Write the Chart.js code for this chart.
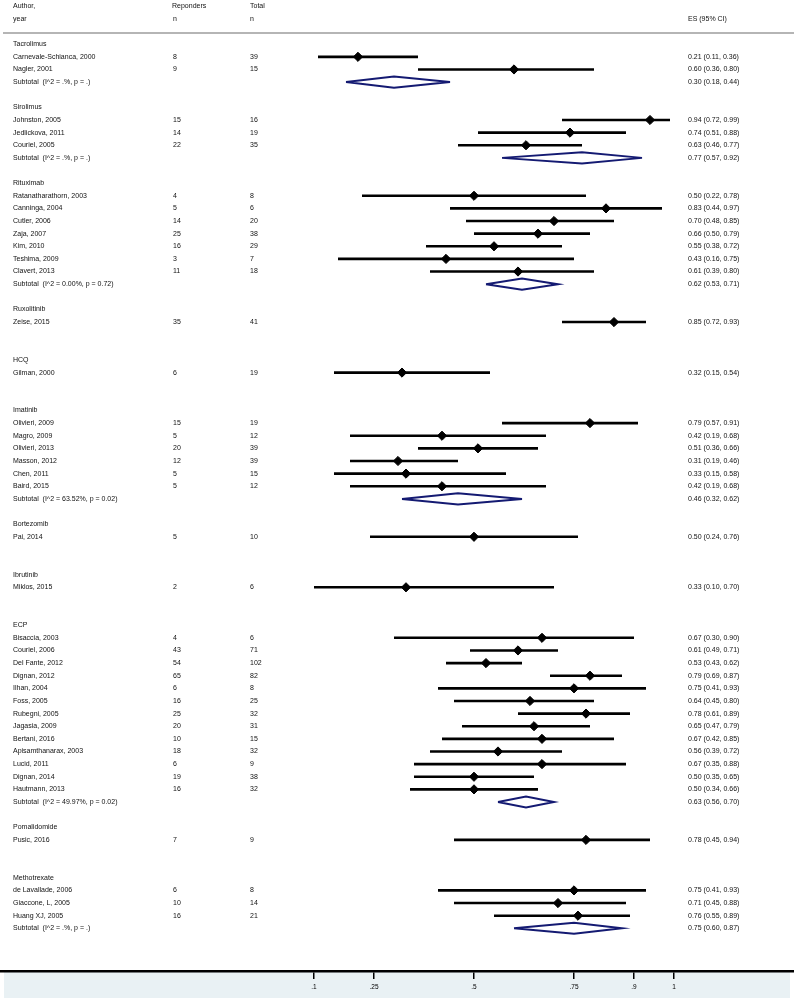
<!DOCTYPE html>
<html><head><meta charset="utf-8">
<script src="https://cdn.jsdelivr.net/npm/chart.js@4/dist/chart.umd.min.js"></script>
<style>html,body{margin:0;padding:0;background:#fff}#wrap{width:794px;height:1000px;position:relative}</style>
</head><body><div id="wrap"><canvas id="c"></canvas></div>
<script>
// ---- data ----
const groupNames = ['Tacrolimus','Sirolimus','Rituximab','Ruxolitinib','HCQ','Imatinib','Bortezomib','Ibrutinib','ECP','Pomalidomide','Methotrexate'];
const studyLabels = [
  'Carnevale-Schianca, 2000','Nagler, 2001',
  'Johnston, 2005','Jedlickova, 2011','Couriel, 2005',
  'Ratanatharathorn, 2003','Canninga, 2004','Cutler, 2006','Zaja, 2007','Kim, 2010','Teshima, 2009','Clavert, 2013',
  'Zeise, 2015',
  'Gilman, 2000',
  'Olivieri, 2009','Magro, 2009','Olivieri, 2013','Masson, 2012','Chen, 2011','Baird, 2015',
  'Pai, 2014',
  'Miklos, 2015',
  'Bisaccia, 2003','Couriel, 2006','Del Fante, 2012','Dignan, 2012','Ilhan, 2004','Foss, 2005','Rubegni, 2005','Jagasia, 2009','Bertani, 2016','Apisamthanarax, 2003','Lucid, 2011','Dignan, 2014','Hautmann, 2013',
  'Pusic, 2016',
  'de Lavallade, 2006','Giaccone, L, 2005','Huang XJ, 2005'
];
const studyGroup = [0,0, 1,1,1, 2,2,2,2,2,2,2, 3, 4, 5,5,5,5,5,5, 6, 7, 8,8,8,8,8,8,8,8,8,8,8,8,8, 9, 10,10,10];
const responders = [8,9, 15,14,22, 4,5,14,25,16,3,11, 35, 6, 15,5,20,12,5,5, 5, 2, 4,43,54,65,6,16,25,20,10,18,6,19,16, 7, 6,10,16];
const totals     = [39,15, 16,19,35, 8,6,20,38,29,7,18, 41, 19, 19,12,39,39,15,12, 10, 6, 6,71,102,82,8,25,32,31,15,32,9,38,32, 9, 8,14,21];
const esValues   = [0.21,0.60, 0.94,0.74,0.63, 0.50,0.83,0.70,0.66,0.55,0.43,0.61, 0.85, 0.32, 0.79,0.42,0.51,0.31,0.33,0.42, 0.50, 0.33, 0.67,0.61,0.53,0.79,0.75,0.64,0.78,0.65,0.67,0.56,0.67,0.50,0.50, 0.78, 0.75,0.71,0.76];
const ciLow      = [0.11,0.36, 0.72,0.51,0.46, 0.22,0.44,0.48,0.50,0.38,0.16,0.39, 0.72, 0.15, 0.57,0.19,0.36,0.19,0.15,0.19, 0.24, 0.10, 0.30,0.49,0.43,0.69,0.41,0.45,0.61,0.47,0.42,0.39,0.35,0.35,0.34, 0.45, 0.41,0.45,0.55];
const ciHigh     = [0.36,0.80, 0.99,0.88,0.77, 0.78,0.97,0.85,0.79,0.72,0.75,0.80, 0.93, 0.54, 0.91,0.68,0.66,0.46,0.58,0.68, 0.76, 0.70, 0.90,0.71,0.62,0.87,0.93,0.80,0.89,0.79,0.85,0.72,0.88,0.65,0.66, 0.94, 0.93,0.88,0.89];
const subtotalLabels = ['Subtotal  (I^2 = .%, p = .)','Subtotal  (I^2 = .%, p = .)','Subtotal  (I^2 = 0.00%, p = 0.72)',null,null,'Subtotal  (I^2 = 63.52%, p = 0.02)',null,null,'Subtotal  (I^2 = 49.97%, p = 0.02)',null,'Subtotal  (I^2 = .%, p = .)'];
const subtotalES   = [0.30,0.77,0.62,null,null,0.46,null,null,0.63,null,0.75];
const subtotalLow  = [0.18,0.57,0.53,null,null,0.32,null,null,0.56,null,0.60];
const subtotalHigh = [0.44,0.92,0.71,null,null,0.62,null,null,0.70,null,0.87];
const tickValues = [0.1,0.25,0.5,0.75,0.9,1];
const tickLabels = ['.1','.25','.5','.75','.9','1'];

// ---- row layout (row index per line of the table) ----
const groupRow = [], studyRow = [], subtotalRow = [];
let r = 0;
groupNames.forEach((g, gi) => {
  groupRow[gi] = r++;
  studyGroup.forEach((sg, si) => { if (sg === gi) studyRow[si] = r++; });
  subtotalRow[gi] = r++;
  r++;
});
const fmt = v => v.toFixed(2);
const esText = (e, l, h) => fmt(e) + ' (' + fmt(l) + ', ' + fmt(h) + ')';

const datasets = [];
studyLabels.forEach((s, i) => {
  datasets.push({
    data: [{x: ciLow[i], y: studyRow[i]}, {x: ciHigh[i], y: studyRow[i]}],
    showLine: true, borderColor: '#000', borderWidth: 2.6, pointRadius: 0, borderCapStyle: 'butt'
  });
});
groupNames.forEach((g, gi) => {
  if (subtotalES[gi] == null) return;
  const y = subtotalRow[gi], h = 0.44;
  datasets.push({
    data: [{x: subtotalLow[gi], y: y}, {x: subtotalES[gi], y: y - h}, {x: subtotalHigh[gi], y: y}, {x: subtotalES[gi], y: y + h}, {x: subtotalLow[gi], y: y}],
    showLine: true, borderColor: '#141a72', borderWidth: 2, pointRadius: 0, fill: false, tension: 0, borderJoinStyle: 'miter'
  });
});
datasets.push({
  data: esValues.map((v, i) => ({x: v, y: studyRow[i]})),
  pointStyle: 'rectRot', pointRadius: 4.6, backgroundColor: '#000', borderColor: '#000', borderWidth: 1, showLine: false
});

const textPlugin = {
  id: 'forestText',
  beforeDraw(chart) {
    const ctx = chart.ctx, ca = chart.chartArea;
    ctx.save();
    ctx.fillStyle = '#fff';
    ctx.fillRect(0, 0, chart.width, chart.height);
    ctx.fillStyle = '#e9f1f4';
    ctx.fillRect(4, ca.bottom + 1, chart.width - 8, chart.height - ca.bottom - 3);
    ctx.restore();
  },
  afterDraw(chart) {
    const ctx = chart.ctx, ys = chart.scales.y;
    ctx.save();
    ctx.font = '7px "Liberation Sans", Arial, sans-serif';
    ctx.fillStyle = '#111';
    ctx.textBaseline = 'middle';
    ctx.textAlign = 'left';
    const X = {label: 13, resp: 173, tot: 250, es: 688};
    const put = (t, x, row) => ctx.fillText(t, x, ys.getPixelForValue(row));
    put('Author,', X.label, -3); put('year', X.label, -2);
    put('Reponders', X.resp - 1, -3); put('n', X.resp, -2);
    put('Total', X.tot, -3); put('n', X.tot, -2);
    put('ES (95% CI)', X.es, -2);
    // header rule
    ctx.strokeStyle = '#b5b5b5'; ctx.lineWidth = 2;
    const hy = ys.getPixelForValue(-0.88);
    ctx.beginPath(); ctx.moveTo(3, hy); ctx.lineTo(chart.width, hy); ctx.stroke();
    groupNames.forEach((g, gi) => {
      put(g, X.label, groupRow[gi]);
      if (subtotalES[gi] != null) {
        put(subtotalLabels[gi], X.label, subtotalRow[gi]);
        put(esText(subtotalES[gi], subtotalLow[gi], subtotalHigh[gi]), X.es, subtotalRow[gi]);
      }
    });
    studyLabels.forEach((s, i) => {
      put(s, X.label, studyRow[i]);
      put(String(responders[i]), X.resp, studyRow[i]);
      put(String(totals[i]), X.tot, studyRow[i]);
      put(esText(esValues[i], ciLow[i], ciHigh[i]), X.es, studyRow[i]);
    });
    ctx.restore();
  }
};

new Chart(document.getElementById('c'), {
  type: 'scatter',
  data: {datasets},
  plugins: [textPlugin],
  options: {
    responsive: true, maintainAspectRatio: false, animation: false,
    layout: {padding: 0, autoPadding: false},
    plugins: {legend: {display: false}, tooltip: {enabled: false}},
    scales: {
      x: {
        type: 'linear', position: 'bottom', min: -0.685, max: 1.3,
        afterBuildTicks: s => { s.ticks = tickValues.map(v => ({value: v})); },
        afterFit: s => { s.height = 29; s.paddingLeft = 0; s.paddingRight = 0; },
        ticks: {
          autoSkip: false, maxRotation: 0, padding: 4, color: '#000',
          font: {size: 6.5, family: '"Liberation Sans", Arial, sans-serif'},
          callback: (v) => { const k = tickValues.indexOf(v); return k >= 0 ? tickLabels[k] : ''; }
        },
        grid: {display: true, drawOnChartArea: false, drawTicks: true, tickLength: 8, color: '#000', lineWidth: 1.5},
        border: {display: true, color: '#000', width: 2.5}
      },
      y: {type: 'linear', reverse: true, min: -3.5, max: 73.38, display: false}
    }
  }
});
</script>
</body></html>
